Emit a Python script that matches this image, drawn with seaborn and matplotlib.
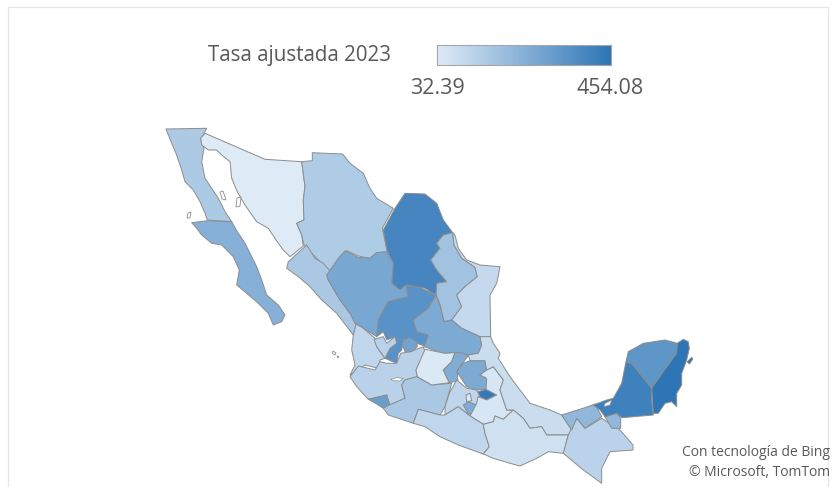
import matplotlib
matplotlib.use("Agg")
import matplotlib.pyplot as plt
from matplotlib.colors import Normalize
import numpy as np
import seaborn as sns

sns.set_theme(style="white")
plt.rcParams['font.family'] = ['Open Sans', 'DejaVu Sans']

TITLE = "Tasa ajustada 2023"
VMIN = 32.39
VMAX = 454.08

estados = ["Baja California", "Baja California Sur", "Sonora", "Chihuahua", "Coahuila",
           "Nuevo Leon", "Tamaulipas", "Sinaloa", "Durango", "Zacatecas",
           "San Luis Potosi", "Nayarit", "Jalisco", "Aguascalientes", "Colima",
           "Michoacan", "Guanajuato", "Queretaro", "Hidalgo", "Mexico",
           "Ciudad de Mexico", "Morelos", "Tlaxcala", "Puebla", "Veracruz",
           "Guerrero", "Oaxaca", "Chiapas", "Tabasco", "Campeche", "Yucatan", "Quintana Roo"]
tasa = [150, 243, 32.39, 146, 395,
        180, 96, 159, 277, 349,
        264, 108, 121, 290, 311,
        159, 40, 255, 264, 110,
        45, 260, 440, 49, 83,
        108, 70, 117, 218, 412, 336, 454.08]

# contornos calcados del mapa
contornos = {
    "Baja California": [[(166,129),(206.7,128.3),(200.7,140),(204,148.3),(201.7,161.7),(205,178.3),(211.7,188.3),(218.3,198.3),(225,211.7),(231.7,221.7),(207.3,220),(205,213.3),(200,201.7),(193.3,190),(185,181.7),(181.7,170),(176,153.3),(171.7,143.3)]],
    "Baja California Sur": [[(191.7,222.7),(207.3,220.7),(231.7,221.7),(237.3,231.7),(245,243.3),(251.7,256.7),(256.7,266.7),(261.7,280),(266.7,295),(278.3,305),(285,315),(281.7,321.7),(273.3,325),(268.3,313.3),(258.3,303.3),(246.7,293.3),(236.7,285),(239.3,270),(233.3,256.7),(221.7,245),(211.7,243.3),(201.7,235),(196.7,228.3)]],
    "Sonora": [[(205,133.3),(265,159.3),(301.7,161.7),(305,186.7),(303.3,200),(304,220),(296.7,223.3),(301.7,235),(303.3,246),(290,256.7),(283.3,250),(278.3,243.3),(268.3,228.3),(256.7,221.7),(245,205),(237.3,191.7),(231.7,178.3),(230,161.7),(221.7,155),(216.7,150),(208.3,150),(201.7,145),(200.7,138.3)]],
    "Chihuahua": [[(301.7,161.7),(312.3,160.7),(312.3,152.7),(342.7,154),(350,163.3),(363.3,173.3),(370,188.3),(376.7,198.3),(393.3,208.3),(382.3,228.3),(387.3,251.7),(376.7,252.7),(370,258.3),(358.3,256),(346.7,250.7),(338.3,261.7),(335,273.3),(330,273.3),(321.7,263.3),(313.3,255),(304,245),(301.7,235),(296.7,223.3),(304,220),(303.3,200),(305,186.7)]],
    "Coahuila": [[(395,208.3),(405,193.3),(425,194),(436.7,203.3),(443.3,220),(452.7,232.7),(443.3,235),(436.7,243.3),(440,248.3),(430.7,260),(436.7,270),(446.7,281.7),(436.7,283.3),(436,295),(425,288.3),(406.7,285),(400,290),(391.7,283.3),(393.3,263.3),(387.3,251.7),(383.3,230)]],
    "Nuevo Leon": [[(452.7,232.7),(454,245),(461.7,258.3),(475,267.3),(477.3,276.7),(465,286.7),(456.7,295),(461.7,306.7),(451.7,320),(444,321.7),(440,305),(436,295),(436.7,283.3),(446.7,281.7),(436.7,270),(430.7,260),(440,248.3),(436.7,243.3),(443.3,235)]],
    "Tamaulipas": [[(452.7,232.7),(455,235),(458.3,248.3),(466.7,260),(480,265),(500,266.7),(496.7,283.3),(490,295),(490.7,336.7),(480,336.7),(461.7,328.3),(451.7,320),(461.7,306.7),(456.7,295),(465,286.7),(477.3,276.7),(475,267.3),(461.7,258.3),(454,245)]],
    "Sinaloa": [[(306.7,245),(288.3,261.7),(286.7,268.3),(298.3,276.7),(310,286.7),(321.7,300),(336.7,313.3),(353.3,335),(356,324),(361.7,325),(350,313.3),(340,300),(328.3,280),(326.7,275),(331.7,272.7),(323.3,263.3),(315,258.3)]],
    "Durango": [[(326.7,275),(338.3,258.3),(345,250.7),(358.3,257.3),(370,258.3),(376.7,252.7),(386.7,251.7),(393.3,263.3),(391.7,283.3),(400,290),(406,285),(408.3,296.7),(388.3,301.7),(378.3,320),(376.7,336.7),(363.3,328.3),(355,323.3),(350,313.3),(340,300),(328.3,280)]],
    "Zacatecas": [[(406,285),(421.7,288.3),(436,295),(428.3,308.3),(413.3,320),(416.7,331.7),(428.3,335),(426.7,346.7),(416.7,343.3),(411.7,338.3),(403.3,340),(401.7,350),(398.3,353.3),(396.7,363.3),(385,358.3),(390,348.3),(396.7,343.3),(395,336.7),(386.7,340),(383.3,331.7),(376.7,336.7),(378.3,320),(388.3,301.7),(408.3,296.7)]],
    "San Luis Potosi": [[(436,295),(440,305),(444,321.7),(451.7,320),(461.7,328.3),(480,336.7),(481.7,345),(478.3,353.3),(468.3,355),(460,353.3),(443.3,353.3),(433.3,350),(424.3,346.7),(428.3,335),(416.7,331.7),(413.3,320),(428.3,308.3)]],
    "Nayarit": [[(353.3,335),(356,324),(363.3,328.3),(375,338.3),(376.7,346.7),(385,358.3),(380,360),(378.3,368.3),(365,365),(358.3,370),(350,375),(355,365),(351.7,350)]],
    "Jalisco": [[(350,376.7),(358.3,366),(375,370),(380,361.7),(386.7,363.3),(396.7,363.3),(400.7,353.3),(410,351.7),(423.3,346.7),(425,351.7),(416,370),(417.3,376.7),(405,380),(401.7,385),(405,398.3),(390,405),(386.7,395),(368.3,399.3),(356.7,386.7)],
                [(374,339.3),(383.3,336.7),(386.7,343.3),(395,336.7),(396.7,343.3),(390,348.3),(385,358.3),(376.7,346.7)]],
    "Aguascalientes": [[(401.7,343.3),(408.3,337.3),(416.7,341.7),(417.3,346.7),(411.7,351.7),(405,351.7)]],
    "Colima": [[(368.3,399.3),(386.7,395),(389.3,405),(383.3,408.3),(376.7,404)]],
    "Michoacan": [[(389.3,405),(405,398.3),(401.7,385),(405,380),(416.7,376.7),(431.7,385),(451.7,383.3),(445,406.7),(440,415),(418.3,409.3),(413.3,423.3),(388.3,415),(383.3,408.3)]],
    "Guanajuato": [[(425,349.3),(445,353.3),(455,352.7),(451.7,361.7),(443.3,370),(449.3,382.7),(431.7,385),(417.3,376.7),(416,370)]],
    "Queretaro": [[(455,352.7),(463,353),(468,356),(457,371),(458,381),(449.3,382.7),(443.3,370),(451.7,361.7)]],
    "Hidalgo": [[(470,360.7),(485,360.7),(486.7,370),(480,375),(486.7,378.3),(486,389.3),(476.7,390),(466.7,386.7),(456.7,371.7),(463.3,363.3)]],
    "Mexico": [[(456.7,380),(466.7,388.3),(476.7,390),(480,396.7),(476.7,403.3),(470,416),(458.3,406.7),(445,415),(445,406.7),(449.3,393.3)]],
    "Ciudad de Mexico": [[(466,395),(470,393.3),(471.7,400.7),(466.7,401.7)]],
    "Morelos": [[(463.3,405),(468.3,401.7),(476.7,405),(475,413.3),(468.3,414)]],
    "Tlaxcala": [[(478,391.7),(486.7,389.3),(496.7,395),(486.7,400),(480,396.7)]],
    "Puebla": [[(486.7,370),(493.3,366.7),(503.3,380),(500,390),(506.7,410),(513.3,410),(503.3,419.3),(495,416),(493.3,421.7),(483.3,424.3),(470,416),(476.7,403.3),(478,396.7),(486.7,400),(496.7,395),(486,389.3),(486.7,378.3),(480,375)]],
    "Veracruz": [[(480,336.7),(490.7,336.7),(493.3,343.3),(500,353.3),(498.3,358.3),(510,376.7),(520,390),(530,403.3),(550,410),(561.7,415),(571.7,430),(568.3,435),(546.7,435),(541.7,426.7),(530,428.3),(523.3,418.3),(513.3,410),(506.7,410),(500,390),(503.3,380),(493.3,366.7),(486.7,370),(485,360.7),(470,360.7),(468.3,355),(478.3,353.3),(481.7,345)]],
    "Guerrero": [[(418.3,409.3),(440,415),(445,415),(458.3,406.7),(470,416),(483.3,424.3),(485,433.3),(489.3,446.7),(483.3,454),(458.3,445),(440,436.7),(425,426.7),(413.3,423.3)]],
    "Oaxaca": [[(483.3,424.3),(493.3,421.7),(495,416),(503.3,419.3),(513.3,410),(523.3,418.3),(530,428.3),(541.7,426.7),(546.7,435),(568.3,435),(563.3,453.3),(548.3,451.7),(536.7,458.3),(520,466),(510,463.3),(493.3,458.3),(483.3,454),(489.3,446.7),(485,433.3)]],
    "Chiapas": [[(576.7,418.3),(585,428.3),(601.7,418.3),(620,430),(633,445),(633,450),(610,451.7),(601.7,468.3),(601.7,483.3),(583.3,470),(563.3,453.3),(568.3,435)]],
    "Tabasco": [[(561.7,415),(588,406.7),(595,404),(601.7,416.7),(585,428.3),(576.7,418.3),(571.7,430)],
                [(605,416.7),(616.7,413.3),(620.7,418.3),(620.7,428.3),(611.7,428.3)]],
    "Campeche": [[(593.3,405),(606.7,400),(613.3,398.3),(621.7,383.3),(626,361.7),(631.7,363.3),(651.7,388.3),(651.7,400),(653.3,415),(621.7,417.7),(616.7,413.3),(605,416.7),(600,410)]],
    "Yucatan": [[(626,361.7),(628.3,351.7),(643.3,343.3),(665,340),(677.3,343.3),(676.7,353.3),(663.3,371.7),(651.7,388.3),(631.7,363.3)]],
    "Quintana Roo": [[(677.3,343.3),(683.3,339.3),(688.3,341.7),(689.3,348.3),(686.7,360),(681.7,373.3),(681.7,385),(676.7,393.3),(676.7,406.7),(671.7,401.7),(665,403.3),(658.3,413.3),(653.3,413.3),(651.7,388.3),(663.3,371.7),(676.7,353.3)],
                     [(687.3,361.7),(691.7,357.3),(692.7,359.3),(689.3,364)]],
}

# lagos y lagunas
lagos = [[(390.7,379.3),(396.7,377.7),(403.3,378.3),(400,381),(393.3,380.7)],
         [(605,403.3),(611.7,400),(610,405),(604,406.7)]]

# islas sin dato
islas = [[(220,192),(223,191),(226,200),(222,199)],
         [(237,198),(241,197),(240,206),(236,207)],
         [(188,213),(191,212),(190,218),(187,218)],
         [(333,351),(336,353),(335,355),(332,353)],
         [(337,356),(339,357),(338,358)]]

fig = plt.figure(figsize=(8.33, 4.93), dpi=100)
ax = fig.add_axes([0, 0, 1, 1])
ax.set_xlim(0, 833)
ax.set_ylim(493, 0)
ax.axis("off")

cmap = sns.blend_palette(["#DEEBF7", "#2E75B6"], as_cmap=True)
norm = Normalize(VMIN, VMAX)
borde = "#8C8C8C"

for estado, valor in zip(estados, tasa):
    for parte in contornos[estado]:
        xs, ys = zip(*parte)
        ax.fill(xs, ys, facecolor=cmap(norm(valor)), edgecolor=borde, linewidth=0.7, joinstyle="round")

for parte in lagos:
    xs, ys = zip(*parte)
    ax.fill(xs, ys, facecolor="white", edgecolor=borde, linewidth=0.5)
for parte in islas:
    xs, ys = zip(*parte)
    ax.fill(xs, ys, facecolor="white", edgecolor=borde, linewidth=0.6)

# marco claro del grafico
ax.plot([8, 8, 828, 828], [486, 7, 7, 486], color="#E6E6E6", linewidth=0.9)

ax.text(300, 56, TITLE, fontsize=14.8, color="#595959", ha="center", va="center")
ax.text(437, 88, f"{VMIN:.2f}", fontsize=15.5, color="#595959", ha="center", va="center")
ax.text(610, 88, f"{VMAX:.2f}", fontsize=15.5, color="#595959", ha="center", va="center")
ax.text(830, 452, "Con tecnología de Bing", fontsize=10, color="#595959", ha="right", va="center")
ax.text(830, 473, "© Microsoft, TomTom", fontsize=10, color="#595959", ha="right", va="center")

# barra de la leyenda
cax = fig.add_axes([437/833, 1 - 65/493, 174/833, 20/493])
sns.heatmap(np.linspace(VMIN, VMAX, 200).reshape(1, -1), cmap=cmap, vmin=VMIN, vmax=VMAX,
            cbar=False, xticklabels=False, yticklabels=False, ax=cax)
for s in cax.spines.values():
    s.set_visible(True)
    s.set_color("#A6A6A6")
    s.set_linewidth(0.8)

fig.savefig("out.png", dpi=100)
